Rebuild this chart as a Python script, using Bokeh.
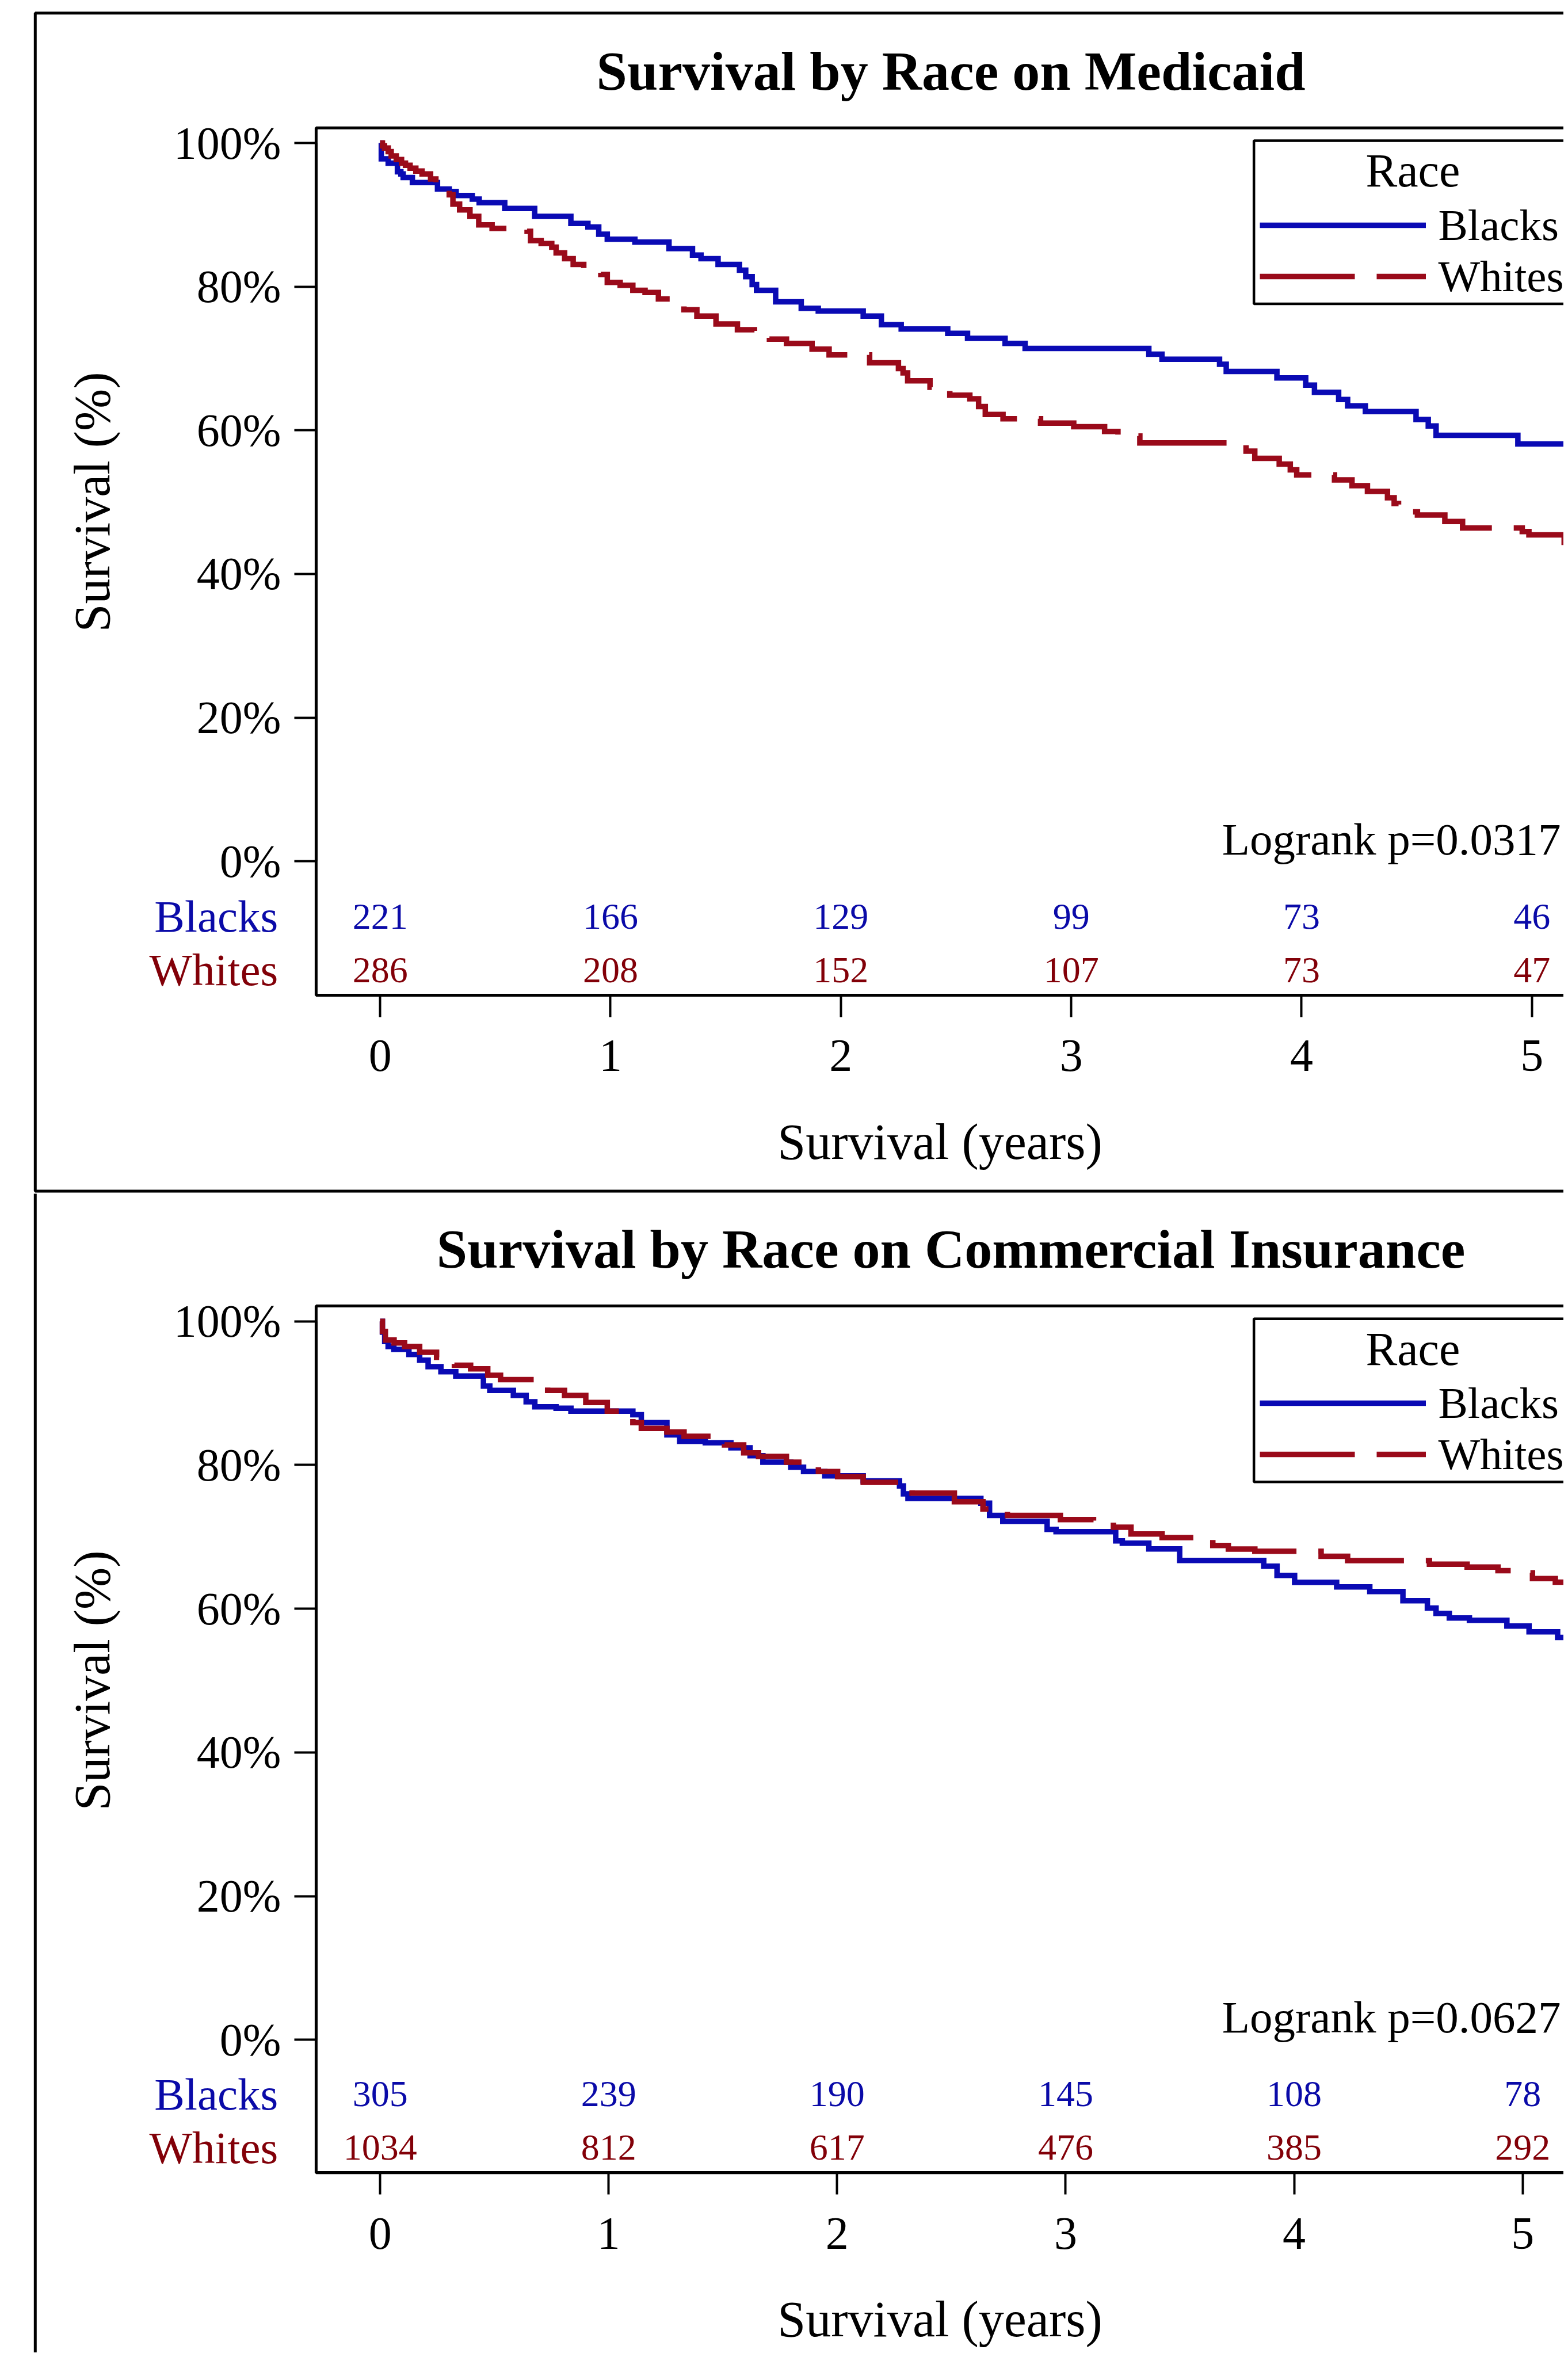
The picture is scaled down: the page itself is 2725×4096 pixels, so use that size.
import math
from bokeh.plotting import figure
from bokeh.models import (Range1d, FixedTicker, Label, Legend, LegendItem,
                          BoxAnnotation)
from bokeh.layouts import column
from bokeh.embed import file_html
from bokeh.resources import INLINE
from bokeh.core.properties import value

# ---------------- data ----------------
YEARS = [0, 1, 2, 3, 4, 5]
Y_TICKS = [0, 20, 40, 60, 80, 100]
Y_TICK_LABELS = ["0%", "20%", "40%", "60%", "80%", "100%"]
GROUPS = ["Blacks", "Whites"]

TITLE_MED = "Survival by Race on Medicaid"
TITLE_COM = "Survival by Race on Commercial Insurance"
PVAL_MED = "Logrank p=0.0317"
PVAL_COM = "Logrank p=0.0627"

MED_BLK_T = [0, 0.005, 0.035, 0.075, 0.09, 0.10, 0.14, 0.249, 0.30, 0.33,
             0.40, 0.43, 0.541, 0.671, 0.828, 0.902, 0.949, 0.986, 1.106, 1.254,
             1.356, 1.393, 1.467, 1.560, 1.587, 1.615, 1.634, 1.717, 1.828, 1.902,
             2.097, 2.176, 2.262, 2.464, 2.550, 2.713, 2.800, 3.337, 3.394, 3.644,
             3.673, 3.893, 4.018, 4.056, 4.161, 4.200, 4.277, 4.497, 4.550, 4.584,
             4.939, 5.30]
MED_BLK_S = [100, 97.8, 97.2, 96.0, 95.7, 95.2, 94.5, 93.6, 93.25, 92.7,
             92.2, 91.7, 90.9, 89.8, 88.8, 88.3, 87.3, 86.6, 86.2, 85.3,
             84.4, 83.9, 83.1, 82.3, 81.4, 80.3, 79.5, 77.9, 77.0, 76.6,
             75.9, 74.7, 74.1, 73.5, 72.8, 72.1, 71.4, 70.6, 69.9, 69.2,
             68.2, 67.3, 66.3, 65.3, 64.3, 63.4, 62.6, 61.5, 60.6, 59.3,
             58.1, 58.1]

MED_WHT_T = [0, 0.010, 0.019, 0.035, 0.048, 0.070, 0.093, 0.110, 0.130, 0.155,
             0.182, 0.219, 0.242, 0.270, 0.300, 0.316, 0.345, 0.390, 0.428, 0.486,
             0.638, 0.653, 0.699, 0.745, 0.764, 0.801, 0.838, 0.884, 0.958, 0.986,
             1.042, 1.097, 1.150, 1.208, 1.319, 1.375, 1.458, 1.551, 1.625, 1.690,
             1.764, 1.875, 1.949, 2.125, 2.250, 2.270, 2.290, 2.387, 2.473, 2.560,
             2.598, 2.627, 2.704, 2.867, 3.011, 3.145, 3.203, 3.298, 3.759, 3.797,
             3.903, 3.951, 3.979, 4.143, 4.219, 4.286, 4.373, 4.402, 4.421, 4.503,
             4.622, 4.699, 4.958, 4.987, 5.140, 5.30]
MED_WHT_S = [100, 99.6, 99.3, 98.8, 98.2, 97.7, 97.2, 96.9, 96.5, 96.1,
             95.7, 95.0, 94.3, 93.5, 92.8, 91.5, 90.7, 89.8, 88.6, 88.1,
             87.7, 86.4, 86.0, 85.5, 84.7, 83.9, 83.1, 82.5, 81.7, 80.6,
             80.2, 79.5, 79.2, 78.3, 76.8, 75.9, 74.8, 74.0, 73.2, 72.7,
             72.1, 71.3, 70.5, 69.4, 68.6, 68.0, 66.9, 66.0, 64.9, 64.4,
             63.3, 62.2, 61.6, 61.0, 60.5, 59.85, 59.2, 58.25, 57.1, 56.1,
             55.3, 54.5, 53.8, 53.1, 52.3, 51.5, 50.6, 49.8, 48.65, 48.2,
             47.3, 46.4, 45.9, 45.45, 44.4, 44.4]

COM_BLK_T = [0, 0.010, 0.020, 0.035, 0.060, 0.126, 0.173, 0.210, 0.266, 0.331,
             0.452, 0.480, 0.583, 0.639, 0.677, 0.770, 0.835, 1.106, 1.143, 1.255,
             1.311, 1.423, 1.535, 1.619, 1.675, 1.797, 1.853, 1.946, 2.114, 2.273,
             2.290, 2.310, 2.629, 2.667, 2.725, 2.919, 2.958, 3.219, 3.248, 3.364,
             3.499, 3.867, 3.925, 4.002, 4.186, 4.331, 4.476, 4.583, 4.621, 4.679,
             4.767, 4.931, 5.028, 5.153, 5.30]
COM_BLK_S = [100, 98.5, 97.2, 96.5, 96.1, 95.4, 94.6, 93.7, 93.0, 92.4,
             91.0, 90.4, 89.7, 88.8, 88.1, 87.9, 87.5, 87.0, 85.9, 84.2,
             83.3, 83.1, 82.4, 81.3, 80.4, 79.7, 79.1, 78.5, 77.8, 77.1,
             76.0, 75.35, 74.7, 73.0, 72.16, 71.04, 70.72, 69.44, 69.12, 68.32,
             66.72, 65.92, 64.64, 63.68, 63.04, 62.4, 61.12, 60.1, 59.36, 58.72,
             58.4, 57.6, 56.8, 56.0, 56.0]

COM_WHT_T = [0, 0.010, 0.023, 0.061, 0.107, 0.173, 0.247, 0.325, 0.396, 0.471,
             0.527, 0.733, 0.807, 0.900, 0.994, 1.106, 1.143, 1.255, 1.330, 1.507,
             1.591, 1.656, 1.778, 1.918, 2.002, 2.114, 2.328, 2.513, 2.638, 2.745,
             2.977, 3.122, 3.209, 3.286, 3.422, 3.644, 3.712, 3.828, 4.118, 4.234,
             4.592, 4.757, 4.892, 4.960, 5.043, 5.143, 5.30]
COM_WHT_S = [100, 98.6, 97.4, 97.0, 96.5, 95.7, 95.0, 93.9, 93.4, 92.5,
             91.9, 90.4, 89.7, 88.7, 87.5, 85.9, 85.1, 84.6, 84.0, 82.8,
             81.7, 81.2, 80.4, 79.1, 78.4, 77.6, 76.1, 74.9, 73.9, 73.0,
             72.4, 72.0, 71.35, 70.4, 69.9, 68.8, 68.3, 68.0, 67.3, 66.7,
             66.2, 65.8, 65.3, 65.0, 64.2, 63.7, 63.7]

MED_RISK_B = [221, 166, 129, 99, 73, 46]
MED_RISK_W = [286, 208, 152, 107, 73, 47]
COM_RISK_B = [305, 239, 190, 145, 108, 78]
COM_RISK_W = [1034, 812, 617, 476, 385, 292]

# ---------------- style / layout (reference-pixel positions) ----------------
S = 0.894
SERIF = "Liberation Serif"
BLUE = "#0a0ab4"
RED = "#9a0a1a"
BLUE_T = "#0a0aa8"
RED_T = "#820008"
W = 2717
H1 = 2074
H2 = 4088 - H1


def make_panel(title, bt, bs, wt, ws, rb, rw, pval, g):
    x0, ppy, y100, y0, off, H = g["x0"], g["ppy"], g["y100"], g["y0"], g["off"], g["H"]
    pp = (y0 - y100) / 100.0
    fx = lambda X: (X - x0) / ppy
    fy = lambda Y: (y0 - Y) / pp
    top_ref = off / S
    xr = (fx(0), fx(W / S))
    yr = (fy(top_ref + H / S), fy(top_ref))

    p = figure(width=W, height=H, x_range=Range1d(*xr), y_range=Range1d(*yr),
               output_backend="svg", toolbar_location=None, title=None,
               min_border_left=0, min_border_right=0, min_border_top=0, min_border_bottom=0)
    p.background_fill_color = "white"
    p.border_fill_color = "white"
    p.outline_line_alpha = 0
    p.xgrid.visible = False
    p.ygrid.visible = False

    plot_left = fx(g["frame_left"])
    plot_top = fy(g["frame_top"])
    plot_bottom = fy(g["frame_bottom"])

    for ax in (p.xaxis[0], p.yaxis[0]):
        ax.axis_line_width = 5
        ax.axis_line_color = "black"
        ax.major_tick_line_width = 4
        ax.major_tick_line_color = "black"
        ax.major_tick_in = 0
        ax.major_tick_out = 38
        ax.minor_tick_line_alpha = 0
        ax.major_label_text_font = SERIF
        ax.major_label_text_font_size = "80px"
        ax.major_label_text_color = "black"
        ax.axis_label_text_font = SERIF
        ax.axis_label_text_font_size = "88px"
        ax.axis_label_text_font_style = "normal"
        ax.axis_label_text_color = "black"

    xa = p.xaxis[0]
    xa.fixed_location = plot_bottom
    xa.ticker = FixedTicker(ticks=YEARS)
    xa.bounds = (plot_left, 2 * fx(g["xlab_cx"]) - plot_left)
    xa.major_label_standoff = 41
    xa.axis_label = "Survival (years)"
    xa.axis_label_standoff = 71

    ya = p.yaxis[0]
    ya.fixed_location = plot_left
    ya.ticker = FixedTicker(ticks=Y_TICKS)
    ya.major_label_overrides = {t: l for t, l in zip(Y_TICKS, Y_TICK_LABELS)}
    ya.bounds = (0, 100)
    ya.major_label_standoff = 23
    ya.axis_label = "Survival (%)"
    ya.axis_label_standoff = 90

    # outer panel frame
    p.add_layout(BoxAnnotation(left=fx(g["outer_left"]), right=fx(4000),
                               top=fy(g["outer_top"]), bottom=fy(g["outer_bottom"]),
                               fill_alpha=0, line_color="black", line_alpha=1, line_width=5))
    # plot frame (left / top / bottom; right side beyond the picture)
    p.add_layout(BoxAnnotation(left=plot_left, right=fx(4000), top=plot_top, bottom=plot_bottom,
                               fill_alpha=0, line_color="black", line_alpha=1, line_width=5))

    rb_r = p.step(bt, bs, mode="after", line_color=BLUE, line_width=9.5,
                  line_join="miter", line_cap="butt")
    rw_r = p.step(wt, ws, mode="after", line_color=RED, line_width=9.5,
                  line_dash="165 38", line_join="miter", line_cap="butt")

    # title
    p.add_layout(Label(x=fx(1848), y=fy(g["title_cy"]), text=title, text_font=SERIF,
                       text_font_size="96px", text_font_style="bold", text_color="black",
                       text_align="center", text_baseline="middle"))

    # at-risk table
    p.text(x=YEARS, y=[fy(g["risk_cy"][0])] * len(YEARS), text=[str(v) for v in rb],
           text_font=value(SERIF), text_font_size="64px", text_color=BLUE_T,
           text_align="center", text_baseline="middle")
    p.text(x=YEARS, y=[fy(g["risk_cy"][1])] * len(YEARS), text=[str(v) for v in rw],
           text_font=value(SERIF), text_font_size="64px", text_color=RED_T,
           text_align="center", text_baseline="middle")
    for grp, cy, c in zip(GROUPS, g["risk_cy"], (BLUE_T, RED_T)):
        p.add_layout(Label(x=fx(540), y=fy(cy), text=grp, text_font=SERIF, text_font_size="79px",
                           text_color=c, text_align="right", text_baseline="middle"))

    p.add_layout(Label(x=fx(2375), y=fy(g["pval_cy"]), text=pval, text_font=SERIF,
                       text_font_size="79px", text_color="black", text_align="left",
                       text_baseline="middle"))

    # legend box + header
    p.add_layout(BoxAnnotation(left=fx(2437), right=fx(4000), top=fy(g["box_top"]),
                               bottom=fy(g["box_bottom"]), fill_color="white", fill_alpha=1,
                               line_color="black", line_alpha=1, line_width=4.5))
    p.add_layout(Label(x=fx(2746), y=fy(g["race_cy"]), text="Race", text_font=SERIF,
                       text_font_size="82px", text_color="black", text_align="center",
                       text_baseline="middle"))
    leg_bottom_canvas = S * g["whites_cy"] - off + 44.5
    leg = Legend(items=[LegendItem(label=GROUPS[0], renderers=[rb_r]),
                        LegendItem(label=GROUPS[1], renderers=[rw_r])],
                 location=(2449 * S, H - leg_bottom_canvas),
                 label_text_font=SERIF, label_text_font_size="77px",
                 label_text_color="black", glyph_width=289, glyph_height=80,
                 label_height=80, label_standoff=21, spacing=0, padding=0, margin=0,
                 border_line_alpha=0, background_fill_alpha=0)
    p.add_layout(leg)
    return p


G_MED = dict(x0=738.4, ppy=447.8, y100=277.5, y0=1673.5, off=0, H=H1,
             frame_left=614, frame_top=248, frame_bottom=1934,
             outer_left=68, outer_top=25, outer_bottom=2315,
             xlab_cx=1846, title_cy=137.5, risk_cy=(1781, 1885), pval_cy=1630.5,
             box_top=273, box_bottom=590, race_cy=331.5, whites_cy=537)

G_COM = dict(x0=738.4, ppy=444.2, y100=2568, y0=3964.5, off=H1, H=H2,
             frame_left=614, frame_top=2538, frame_bottom=4223,
             outer_left=68, outer_top=1500, outer_bottom=6000,
             xlab_cx=1846, title_cy=2427, risk_cy=(4070, 4174), pval_cy=3920.5,
             box_top=2563, box_bottom=2880, race_cy=2621.5, whites_cy=2827)

p1 = make_panel(TITLE_MED, MED_BLK_T, MED_BLK_S, MED_WHT_T, MED_WHT_S,
                MED_RISK_B, MED_RISK_W, PVAL_MED, G_MED)
p2 = make_panel(TITLE_COM, COM_BLK_T, COM_BLK_S, COM_WHT_T, COM_WHT_S,
                COM_RISK_B, COM_RISK_W, PVAL_COM, G_COM)

layout = column(p1, p2, spacing=0)
open("out.html", "w").write(file_html(layout, INLINE))
